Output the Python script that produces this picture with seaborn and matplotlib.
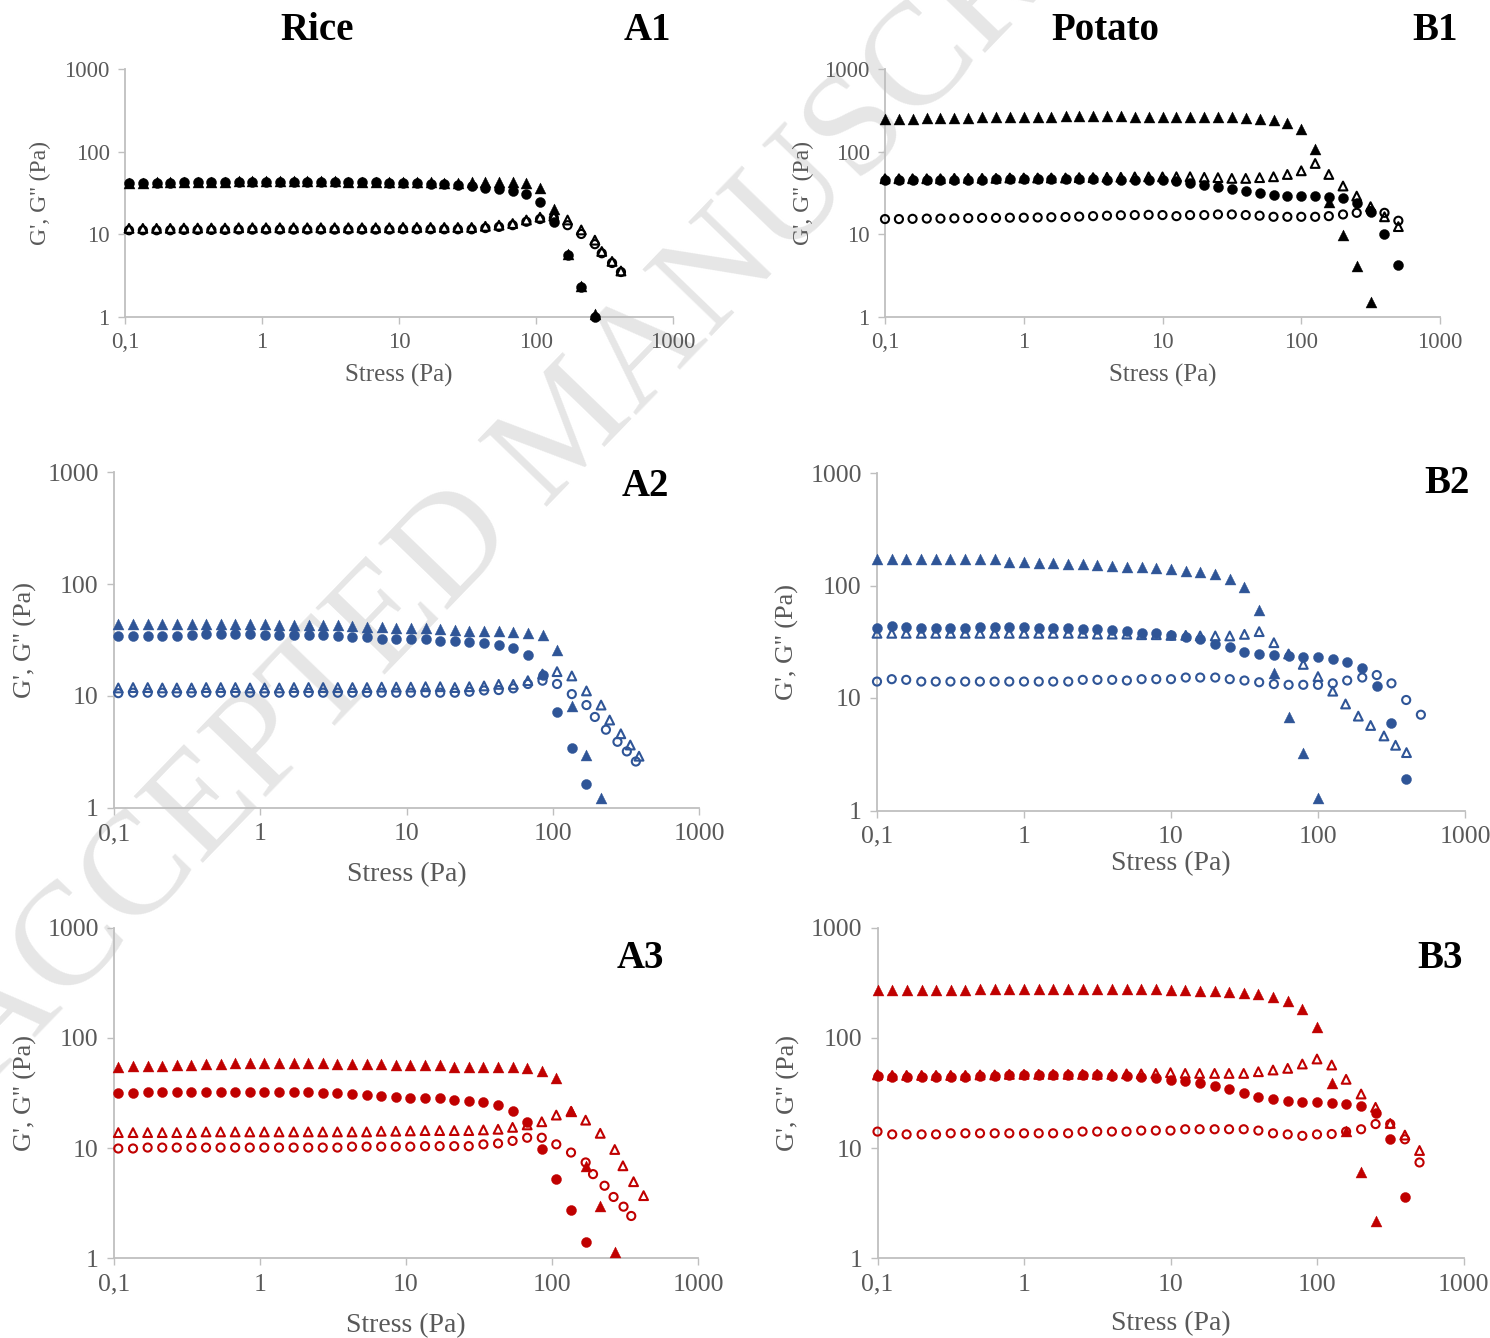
import matplotlib
matplotlib.use("Agg")
import matplotlib.pyplot as plt
import matplotlib.ticker as mticker
import seaborn as sns

# stress grids (Pa), 10 points per decade
stress_rice = [0.107, 0.135, 0.170, 0.214, 0.269, 0.339, 0.427, 0.537, 0.676, 0.851,
               1.07, 1.35, 1.70, 2.14, 2.69, 3.39, 4.27, 5.37, 6.76, 8.51,
               10.7, 13.5, 17.0, 21.4, 26.9, 33.9, 42.7, 53.7, 67.6, 85.1,
               107, 135, 170, 214, 269, 339, 427, 537]
stress_potato = [0.100, 0.126, 0.158, 0.200, 0.251, 0.316, 0.398, 0.501, 0.631, 0.794,
                 1.00, 1.26, 1.58, 2.00, 2.51, 3.16, 3.98, 5.01, 6.31, 7.94,
                 10.0, 12.6, 15.8, 20.0, 25.1, 31.6, 39.8, 50.1, 63.1, 79.4,
                 100, 126, 158, 200, 251, 316, 398, 501]

x_ticks = [0.1, 1, 10, 100, 1000]
x_tick_labels = ["0,1", "1", "10", "100", "1000"]
y_ticks = [1, 10, 100, 1000]
y_tick_labels = ["1", "10", "100", "1000"]

# ---- A1 (rice, black)
a1_tri_fill = [42, 42, 42.5, 42.5, 43, 43, 43.5, 43.5, 44, 44, 44, 44, 44, 44, 44, 44,
               43.5, 43.5, 43.5, 43, 43, 42.5, 42.5,
               42, 42, 42.5, 43, 43, 42.5, 41.5, 36.6, 20.2, 5.8, 2.4, 1.1]
a1_circ_fill = [41.5, 41.5, 42, 42, 42.5, 42.5, 43, 43, 43.5, 43.5, 43.5, 43.5, 43.5, 43.5,
                43.5, 43, 43, 42.5, 42.5, 42, 42, 41.5, 41,
                40.5, 39.5, 38.4, 36.6, 35, 33.4, 30.7, 24.5, 14.2, 5.7, 2.3, 1.0]
a1_tri_open = [11.8, 11.8, 11.8, 11.8, 11.9, 11.9, 11.9, 11.9, 12, 12, 12, 12, 12, 12, 12,
               12, 12, 12, 12, 12, 12.1, 12.1, 12.1,
               12.1, 12.1, 12.1, 12.5, 12.9, 13.5, 14.9, 16.1, 16.6, 14.9, 11.3, 8.5,
               6.2, 4.7, 3.6]
a1_circ_open = [11.2, 11.2, 11.2, 11.2, 11.3, 11.3, 11.3, 11.3, 11.4, 11.4, 11.4, 11.4,
                11.4, 11.4, 11.4, 11.4, 11.4, 11.4, 11.4, 11.4, 11.5, 11.5, 11.5,
                11.5, 11.5, 11.5, 11.9, 12.3, 12.9, 14.2, 15.3, 15.8, 12.9, 10.1, 7.6,
                5.9, 4.5, 3.5]
a1_open_tail = [302, 359, 417]

# ---- B1 (potato, black)
b1_tri_fill = [246, 248, 250, 252, 254, 256, 258, 260, 262, 263,
               264, 265, 266, 267, 267, 267, 267, 267, 266, 266,
               265, 264, 264, 264, 264, 260, 257, 250, 241, 224,
               190, 107, 24.8, 9.8, 4.1, 1.5]
b1_circ_fill = [45, 45.5, 45.5, 45.5, 46, 46, 46, 46, 46.5, 46.5, 46.5, 46.5, 46.5, 46.5,
                46.5, 46.5, 46, 46, 46, 45.5, 45,
                44, 42, 40, 37.6, 35.6, 33.4, 31.3, 29.9, 29, 29, 29, 28.5, 27.2, 23.7,
                18.8, 10.1, 4.3]
b1_tri_open = [47, 47, 47, 47, 47, 47.5, 47.5, 47.5, 47.5, 48, 48, 48, 48, 48, 48.5, 48.5,
               49, 49, 49.5, 49.5, 49.5,
               49.7, 49.7, 48.9, 48.5, 47.5, 47.5, 48.5, 49.7, 53, 58.7, 72, 53, 38.4,
               29, 21.6, 16.3, 12.4]
b1_circ_open = [15.3, 15.3, 15.4, 15.5, 15.5, 15.6, 15.7, 15.8, 15.8, 15.9, 15.9, 16,
                16.1, 16.2, 16.4, 16.6, 16.8, 17, 17.1, 17.2, 17.1,
                16.6, 17.1, 17.1, 17.4, 17.4, 17.1, 16.8, 16.3, 16.3, 16.3, 16.3, 16.6,
                17.4, 18.2, 19.1, 18.2, 14.6]

# ---- A2 (rice, blue)
a2_tri_fill = [44, 44, 44, 44, 43.5, 43.5, 43.5, 43.5, 43.5, 43.8, 43.5, 43, 43, 43, 43,
               43, 42, 41.6, 41, 40.5, 40.5,
               40.2, 39.4, 38.8, 38.3, 38.3, 38, 37.5, 36.7, 35, 25.7, 8.1, 2.97, 1.24]
a2_circ_fill = [34.6, 34.6, 34.6, 34.6, 34.6, 35, 35.5, 35.8, 35.8, 35.8, 35, 35, 35, 35,
                35, 34.6, 33.8, 33.8, 32.5, 32.2, 32.2,
                32, 31.2, 31.2, 30.5, 29.5, 28.5, 26.6, 23.2, 15.4, 7.2, 3.4, 1.63]
a2_tri_open = [11.8, 11.9, 11.9, 11.8, 11.8, 11.8, 11.9, 11.9, 11.9, 11.8, 11.8, 11.8,
               11.9, 11.9, 11.9, 11.9, 11.9, 11.9, 12, 12, 12,
               12.1, 12.1, 11.9, 12.1, 12.3, 12.7, 12.7, 13.7, 15.7, 16.5, 15.1, 11.1,
               8.3, 6.1, 4.6, 3.65, 2.9]
a2_circ_open = [10.6, 10.7, 10.7, 10.7, 10.7, 10.7, 10.7, 10.7, 10.7, 10.7, 10.7, 10.7,
                10.7, 10.7, 10.7, 10.7, 10.7, 10.7, 10.7, 10.7, 10.7,
                10.7, 10.7, 10.7, 10.9, 11.2, 11.3, 11.7, 12.8, 13.7, 12.8, 10.4, 8.3,
                6.5, 5, 3.9, 3.2, 2.6]
a2_tri_open_tail = [245, 292, 339, 389]
a2_circ_open_tail = [194, 231, 277, 321, 370]

# ---- B2 (potato, blue)
b2_tri_fill = [171, 171, 171, 171, 171, 171, 171, 171, 171, 163, 163, 158, 158, 154, 154,
               151, 149,
               147, 147, 144, 140, 135.5, 131, 126.5, 113.5, 96.4, 60.6, 16.6, 6.8,
               3.27, 1.28]
b2_circ_fill = [41.6, 43.6, 42.4, 41.6, 41.6, 41.6, 41.6, 42.4, 42.4, 42.4, 42.4, 41.6,
                41.6, 41.6, 41, 41, 40.5,
                39.7, 38.1, 37.6, 36.3, 35.1, 33.2, 30.2, 28.2, 25.8, 24.6, 24.1, 23.6,
                23, 23, 22.2, 21, 18.6, 12.8, 6, 1.9]
b2_tri_open = [37.6, 37.6, 37.6, 37.6, 37.6, 37.6, 37.6, 37.6, 37.6, 37.6, 37.6, 37.6,
               37.6, 37.6, 37.6, 37, 37, 37, 36.5, 36.5, 36, 36,
               35.6, 35.6, 35.6, 36.8, 38.9, 31, 24.6, 19.9, 15.5, 11.5, 8.85, 6.9,
               5.7, 4.6, 3.8, 3.27]
b2_circ_open = [14, 14.7, 14.5, 14, 14, 14, 14, 14, 14, 14, 14, 14, 14, 14, 14.5, 14.5,
                14.5,
                14.3, 14.7, 14.7, 14.7, 15.2, 15.2, 15.2, 14.7, 14.3, 13.8, 13.3, 13.1,
                13.1, 13.1, 13.5, 14.3, 15.2, 16, 13.5, 9.6, 7.1]
b2_tri_open_tail = [154, 188, 228, 281, 337, 400]

# ---- A3 (rice, red)
a3_tri_fill = [54.6, 55, 55.5, 56, 56.5, 57, 58, 58, 58.5, 58.5, 58.5, 58.5, 58.5, 58.5,
               58.5, 58, 58, 58, 57.5, 57, 56.5,
               56.5, 56.5, 54.6, 54.6, 54.6, 54.6, 54.6, 53.5, 50.2, 42.9, 21.8, 6.9,
               2.98, 1.15]
a3_circ_fill = [31.3, 31.8, 32.4, 32.4, 32.4, 32.4, 32.4, 32.4, 32.4, 32.4, 32.4, 32.4,
                32.4, 32, 31.5, 31.3, 30.8, 30.3, 29.6, 29.2, 28.6,
                28.2, 28.2, 27.2, 26.7, 25.9, 24.5, 21.6, 17.1, 9.9, 5.2, 2.74, 1.42]
a3_tri_open = [13.8, 13.8, 13.8, 13.8, 13.8, 13.8, 14, 14, 14, 14, 14, 14, 14, 14, 14, 14,
               14, 14, 14.2, 14.2, 14.3,
               14.4, 14.4, 14.4, 14.4, 14.6, 14.8, 15.4, 16.2, 17.3, 19.9, 21.5, 17.9,
               13.6, 9.7, 6.9, 4.95, 3.7]
a3_circ_open = [9.9, 9.9, 10.1, 10.1, 10.1, 10.1, 10.1, 10.1, 10.1, 10.1, 10.1, 10.1,
                10.1, 10.1, 10.1, 10.1, 10.3, 10.3, 10.3, 10.3, 10.3,
                10.4, 10.4, 10.4, 10.4, 10.8, 11, 11.6, 12.4, 12.4, 10.8, 9.1, 7.4, 5.8,
                4.55, 3.6, 2.94, 2.42]
a3_tri_open_tail = [306, 362, 424]
a3_circ_open_tail = [191, 229, 264, 309, 349]

# ---- B3 (potato, red)
b3_tri_fill = [271, 271, 271, 271, 271, 271, 271, 276, 278, 278, 278, 278, 278, 278, 278,
               278, 278, 278, 276, 274,
               271, 271, 265, 265, 258, 253, 247, 232, 215, 182, 124, 38.6, 14.4, 6.1,
               2.19]
b3_circ_fill = [45.3, 44, 44, 44, 44.5, 44.5, 44.5, 45, 45, 45.5, 46, 46, 46, 46, 46,
                45.5, 45, 45, 44.5, 43,
                41.3, 40.7, 38.6, 36.7, 34, 31.3, 28.8, 27.6, 26.7, 26.3, 25.9, 25.7,
                25, 24, 20.9, 12, 3.57]
b3_tri_open = [46, 45.5, 45.5, 45.5, 45.5, 45.5, 45.5, 46, 46, 46.5, 46.5, 46.5, 46.5,
               46.5, 46.5, 46.5, 46.5, 47, 47, 47.5,
               48.2, 47.5, 47.5, 47.5, 47.5, 47.5, 49.2, 51, 52.8, 57.8, 64.2, 56.6, 42,
               30.9, 23.4, 16.7, 13.1, 9.5]
b3_circ_open = [14.1, 13.3, 13.3, 13.3, 13.3, 13.6, 13.6, 13.6, 13.6, 13.6, 13.6, 13.6,
                13.6, 13.6, 14.1, 14.1, 14.1, 14.1, 14.4, 14.4,
                14.4, 14.8, 14.8, 14.8, 14.8, 14.8, 14.4, 13.6, 13.3, 12.9, 13.3, 13.4,
                14.1, 14.8, 16.5, 16.5, 12, 7.4]

BLACK = "#000000"
BLUE = "#2F5597"
RED = "#C00000"
GREY = "#595959"
SPINE = "#BFBFBF"


def stress_for(grid, values, tail=None):
    x = list(grid[:len(values)])
    if tail:
        x[len(values) - len(tail):] = tail
    return x


sns.set_theme(style="white")
plt.rcParams["font.family"] = ["Liberation Serif", "DejaVu Serif"]

W, H = 1490, 1338
fig = plt.figure(figsize=(W / 100, H / 100), dpi=100)

# watermark behind everything (runs off the page like in the source)
fig.text(572 / W, 1 - 431 / H, "ACCEPTED MANUSCRIPT", rotation=46, fontsize=106,
         color="#e6e6e6", ha="center", va="center", zorder=-5)

# (name, box in px [left, top, right, bottom], grid, colour, series, fontsize, label coords, tag pos)
panels = [
    ("A1", (125, 69, 673, 317), stress_rice, BLACK,
     [(a1_tri_fill, None), (a1_circ_fill, None), (a1_tri_open, a1_open_tail),
      (a1_circ_open, a1_open_tail)], 16.5, (-0.135, -0.19), (647, 30)),
    ("B1", (885, 69, 1440, 317), stress_potato, BLACK,
     [(b1_tri_fill, None), (b1_circ_fill, None), (b1_tri_open, None),
      (b1_circ_open, None)], 16.5, (-0.128, -0.19), (1435, 30)),
    ("A2", (114, 472, 699, 808), stress_rice, BLUE,
     [(a2_tri_fill, None), (a2_circ_fill, None), (a2_tri_open, a2_tri_open_tail),
      (a2_circ_open, a2_circ_open_tail)], 18.5, (-0.132, -0.16), (645, 487)),
    ("B2", (877, 473, 1465, 810.5), stress_potato, BLUE,
     [(b2_tri_fill, None), (b2_circ_fill, None), (b2_tri_open, b2_tri_open_tail),
      (b2_circ_open, None)], 18.5, (-0.132, -0.12), (1447, 483)),
    ("A3", (114, 927.5, 698, 1258.3), stress_rice, RED,
     [(a3_tri_fill, None), (a3_circ_fill, None), (a3_tri_open, a3_tri_open_tail),
      (a3_circ_open, a3_circ_open_tail)], 18.5, (-0.132, -0.166), (640, 958)),
    ("B3", (877.5, 927.5, 1463.5, 1258.3), stress_potato, RED,
     [(b3_tri_fill, None), (b3_circ_fill, None), (b3_tri_open, None),
      (b3_circ_open, None)], 18.5, (-0.132, -0.16), (1440, 958)),
]

styles = [("^", True), ("o", True), ("^", False), ("o", False)]

for name, (l, t, r, b), grid, col, series, fs, (ylc, xlc), (tx, ty) in panels:
    ax = fig.add_axes([l / W, 1 - b / H, (r - l) / W, (b - t) / H])
    ax.set_facecolor("none")
    for (vals, tail), (mk, filled) in zip(series, styles):
        x = stress_for(grid, vals, tail)
        if filled:
            sns.scatterplot(x=x, y=vals, ax=ax, marker=mk, s=62 if mk == "^" else 52,
                            color=col, edgecolor=col, linewidth=0.3, clip_on=False,
                            zorder=3)
        else:
            sns.scatterplot(x=x, y=vals, ax=ax, marker=mk, s=40 if mk == "^" else 34,
                            color=col, facecolor="none", edgecolor=col, linewidth=1.5,
                            clip_on=False, zorder=3)
    ax.set_xscale("log")
    ax.set_yscale("log")
    ax.set_xlim(0.1, 1000)
    ax.set_ylim(1, 1000)
    ax.set_xticks(x_ticks)
    ax.set_xticklabels(x_tick_labels)
    ax.set_yticks(y_ticks)
    ax.set_yticklabels(y_tick_labels)
    ax.xaxis.set_minor_locator(mticker.NullLocator())
    ax.yaxis.set_minor_locator(mticker.NullLocator())
    ax.tick_params(axis="both", which="major", direction="out", length=5, width=1,
                   color=SPINE, labelcolor=GREY, labelsize=fs, pad=6,
                   bottom=True, left=True)
    for side in ("top", "right"):
        ax.spines[side].set_visible(False)
    for side in ("left", "bottom"):
        ax.spines[side].set_color(SPINE)
        ax.spines[side].set_linewidth(1.3)
    ax.set_xlabel("Stress (Pa)", fontsize=fs + 1.5, color=GREY)
    ax.set_ylabel("G', G'' (Pa)", fontsize=fs + 0.5, color=GREY)
    ax.xaxis.set_label_coords(0.5, xlc)
    ax.yaxis.set_label_coords(ylc, 0.5)
    ax.grid(False)
    fig.text(tx / W, 1 - ty / H, name, fontsize=28, fontweight="bold", color="black",
             ha="center", va="center")

fig.text(317 / W, 1 - 30 / H, "Rice", fontsize=28, fontweight="bold", color="black",
         ha="center", va="center")
fig.text(1105 / W, 1 - 30 / H, "Potato", fontsize=28, fontweight="bold", color="black",
         ha="center", va="center")

fig.savefig("out.png", dpi=100)
